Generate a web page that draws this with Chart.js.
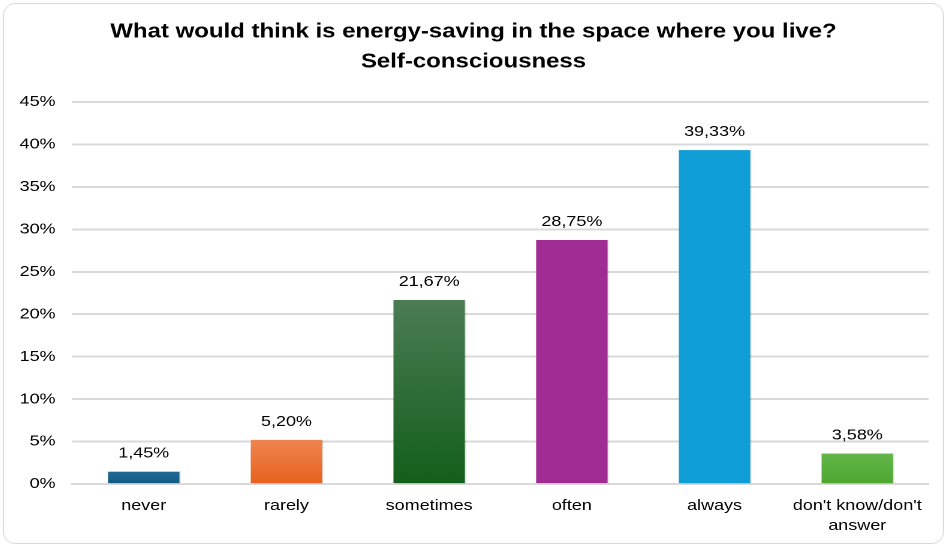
<!DOCTYPE html>
<html>
<head>
<meta charset="utf-8">
<script src="https://cdn.jsdelivr.net/npm/chart.js@4/dist/chart.umd.min.js"></script>
<style>
  body { margin: 0; background: #fff; }
  #box {
    position: absolute; left: 3px; top: 3px;
    width: 941px; height: 541px;
    border: 1px solid #d9d9d9; border-radius: 12px;
    box-sizing: border-box; overflow: hidden;
  }
  canvas { display: block; }
</style>
</head>
<body>
<div id="box">
  <!-- the source picture is a slightly widened screenshot: draw at 783 px and stretch to 939 -->
  <canvas id="chart" width="783" height="539" style="width:939px;height:539px"></canvas>
</div>
<script>
const categories = ['never', 'rarely', 'sometimes', 'often', 'always', ["don't know/don't", 'answer']];
const values = [1.45, 5.20, 21.67, 28.75, 39.33, 3.58];
// top / bottom colours of each bar gradient
const topColors = ['#1f6a95', '#ef8550', '#4c7c55', '#a02b93', '#0f9ed5', '#62b64a'];
const bottomColors = ['#135a83', '#e8611d', '#125f1a', '#a02b93', '#0f9ed5', '#4ea72e'];
const yTicks = [0, 5, 10, 15, 20, 25, 30, 35, 40, 45];

const FONT = '"Liberation Sans", Arial, sans-serif';
const fmt = v => v.toFixed(2).replace('.', ',') + '%';

const labelPlugin = {
  id: 'valueLabels',
  afterDatasetsDraw(chart) {
    const ctx = chart.ctx;
    const meta = chart.getDatasetMeta(0);
    ctx.save();
    ctx.fillStyle = '#000';
    ctx.font = '15px ' + FONT;
    ctx.textAlign = 'center';
    ctx.textBaseline = 'alphabetic';
    meta.data.forEach((bar, i) => {
      ctx.fillText(fmt(values[i]), bar.x, bar.y - 14);
    });
    ctx.restore();
  }
};

const shadowPlugin = {
  id: 'barShadow',
  beforeDatasetsDraw(chart) {
    chart.ctx.save();
    chart.ctx.shadowColor = 'rgba(0,0,0,0.25)';
    chart.ctx.shadowBlur = 3;
    chart.ctx.shadowOffsetX = 1;
    chart.ctx.shadowOffsetY = 1;
  },
  afterDatasetsDraw(chart) {
    chart.ctx.restore();
  }
};

function gradientFor(context) {
  const chart = context.chart;
  const i = context.dataIndex;
  const y = chart.scales.y;
  if (!chart.chartArea || !y) return topColors[i];
  const top = y.getPixelForValue(values[i]);
  const base = y.getPixelForValue(0);
  if (!isFinite(top) || !isFinite(base) || top === base) return topColors[i];
  const g = chart.ctx.createLinearGradient(0, top, 0, base);
  g.addColorStop(0, topColors[i]);
  g.addColorStop(1, bottomColors[i]);
  return g;
}

new Chart(document.getElementById('chart'), {
  type: 'bar',
  data: {
    labels: categories,
    datasets: [{
      data: values,
      backgroundColor: gradientFor,
      barPercentage: 0.5,
      categoryPercentage: 1.0
    }]
  },
  options: {
    responsive: false,
    animation: false,
    devicePixelRatio: 2,
    layout: { padding: { left: 12, right: 12, top: 0, bottom: 0 } },
    plugins: {
      legend: { display: false },
      tooltip: { enabled: false },
      title: {
        display: true,
        text: ['What would think is energy-saving in the space where you live?', 'Self-consciousness'],
        color: '#000',
        font: { family: FONT, size: 20, weight: 'bold', lineHeight: 1.5 },
        padding: { top: 13, bottom: 25 }
      }
    },
    scales: {
      x: {
        afterFit: s => { s.height = 59; },
        grid: { display: false, drawTicks: false },
        border: { color: '#d9d9d9', width: 2 },
        ticks: {
          color: '#000',
          padding: 12,
          maxRotation: 0,
          font: { family: FONT, size: 15, lineHeight: 1.33 }
        }
      },
      y: {
        min: 0,
        max: 45,
        afterFit: s => { s.width = 45; },
        afterBuildTicks: axis => { axis.ticks = yTicks.map(v => ({ value: v })); },
        grid: { color: '#d9d9d9', lineWidth: 2, drawTicks: false },
        border: { display: false },
        ticks: {
          color: '#000',
          padding: 14,
          callback: v => v + '%',
          font: { family: FONT, size: 15 }
        }
      }
    }
  },
  plugins: [shadowPlugin, labelPlugin]
});
</script>
</body>
</html>
